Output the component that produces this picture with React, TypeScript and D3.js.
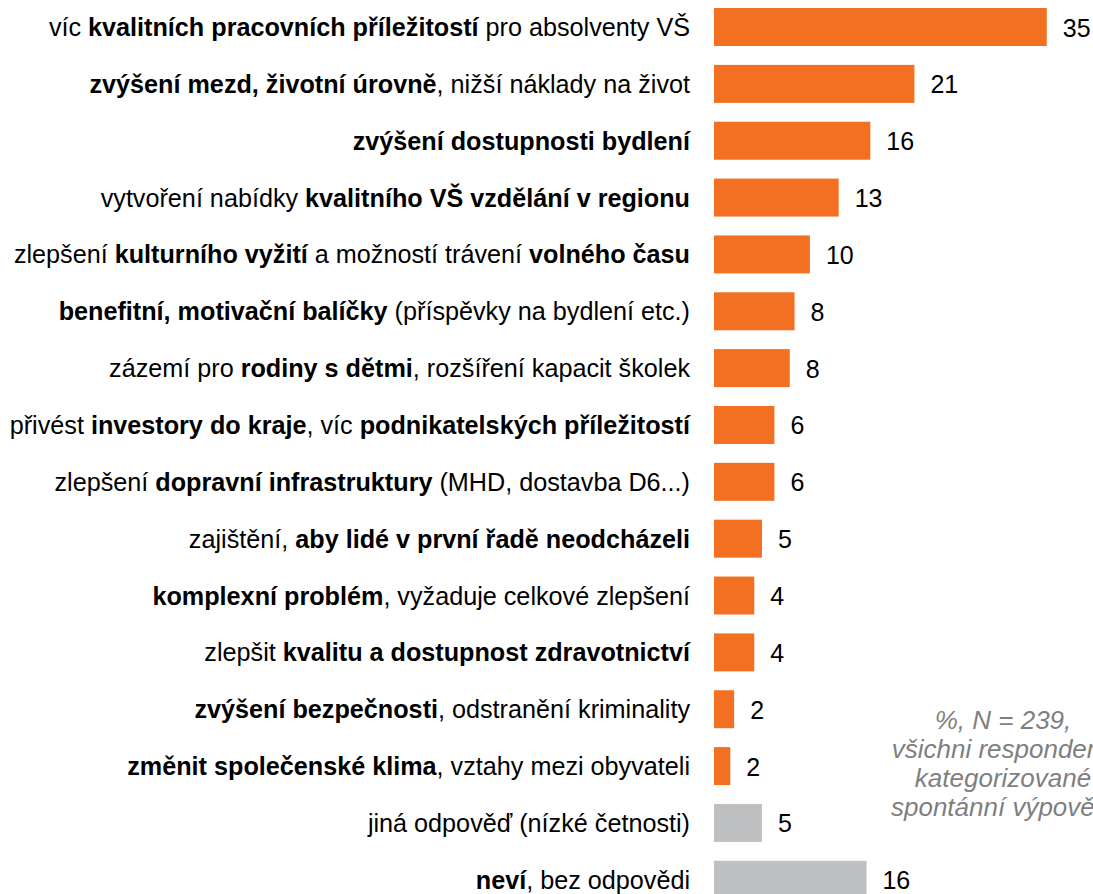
import React from 'react';
import * as d3 from 'd3';

// ---- data ----
const categories: string[] = [
  'víc **kvalitních pracovních příležitostí** pro absolventy VŠ',
  '**zvýšení mezd, životní úrovně**, nižší náklady na život',
  '**zvýšení dostupnosti bydlení**',
  'vytvoření nabídky **kvalitního VŠ vzdělání v regionu**',
  'zlepšení **kulturního vyžití** a možností trávení **volného času**',
  '**benefitní, motivační balíčky** (příspěvky na bydlení etc.)',
  'zázemí pro **rodiny s dětmi**, rozšíření kapacit školek',
  'přivést **investory do kraje**, víc **podnikatelských příležitostí**',
  'zlepšení **dopravní infrastruktury** (MHD, dostavba D6...)',
  'zajištění, **aby lidé v první řadě neodcházeli**',
  '**komplexní problém**, vyžaduje celkové zlepšení',
  'zlepšit **kvalitu a dostupnost zdravotnictví**',
  '**zvýšení bezpečnosti**, odstranění kriminality',
  '**změnit společenské klima**, vztahy mezi obyvateli',
  'jiná odpověď (nízké četnosti)',
  '**neví**, bez odpovědi',
];

const values: number[] = [34.7, 20.9, 16.3, 13.0, 10.0, 8.4, 7.9, 6.3, 6.3, 5.0, 4.2, 4.2, 2.1, 1.7, 5.0, 15.9];

const groups: string[] = [
  'main', 'main', 'main', 'main', 'main', 'main', 'main', 'main',
  'main', 'main', 'main', 'main', 'main', 'main', 'other', 'other',
];

const noteLines: string[] = ['%, N = 239,', 'všichni respondenti', 'kategorizované', 'spontánní výpovědi'];

// ---- layout / style ----
const W = 1093;
const H = 894;
const FONT = '"Liberation Sans", Arial, Helvetica, sans-serif';
const colors: Record<string, string> = { main: '#F37022', other: '#BFC0C2' };

function parseLabel(s: string) {
  return s.split('**').map((t, i) => ({ text: t, bold: i % 2 === 1 })).filter((p) => p.text.length > 0);
}

export default function App() {
  const idx = d3.range(categories.length);
  const y = d3
    .scaleBand<number>()
    .domain(idx)
    .range([-1.4, 908.2])
    .paddingInner(0.332)
    .paddingOuter(0.166);
  const x = d3.scaleLinear().domain([0, 40]).range([714, 1097.6]);
  const fmt = d3.format('.0f');
  const bw = y.bandwidth();
  const noteX = 1003;

  return (
    <svg
      width={W}
      height={H}
      viewBox={`0 0 ${W} ${H}`}
      style={{ position: 'absolute', left: 0, top: 0, background: '#fff', fontFamily: FONT }}
    >
      <rect x={0} y={0} width={W} height={H} fill="#ffffff" />
      {idx.map((i) => {
        const cy = (y(i) as number) + bw / 2;
        return (
          <g key={i}>
            <rect
              x={x(0)}
              y={y(i) as number}
              width={x(values[i]) - x(0)}
              height={bw}
              fill={colors[groups[i]]}
            />
            <text x={x(values[i]) + 16} y={cy} dy="0.38em" fontSize={25} fill="#000">
              {fmt(values[i])}
            </text>
            <text x={690} y={cy} dy="0.36em" fontSize={25.2} fill="#000" textAnchor="end">
              {parseLabel(categories[i]).map((p, k) => (
                <tspan key={k} fontWeight={p.bold ? 'bold' : 'normal'}>
                  {p.text}
                </tspan>
              ))}
            </text>
          </g>
        );
      })}
      <text
        x={noteX}
        y={(y(12) as number) + bw / 2 + 20}
        fontSize={26}
        fill="#7F7F7F"
        fontStyle="italic"
        textAnchor="middle"
      >
        {noteLines.map((l, k) => (
          <tspan key={k} x={noteX} dy={k === 0 ? 0 : 28.8}>
            {l}
          </tspan>
        ))}
      </text>
    </svg>
  );
}
